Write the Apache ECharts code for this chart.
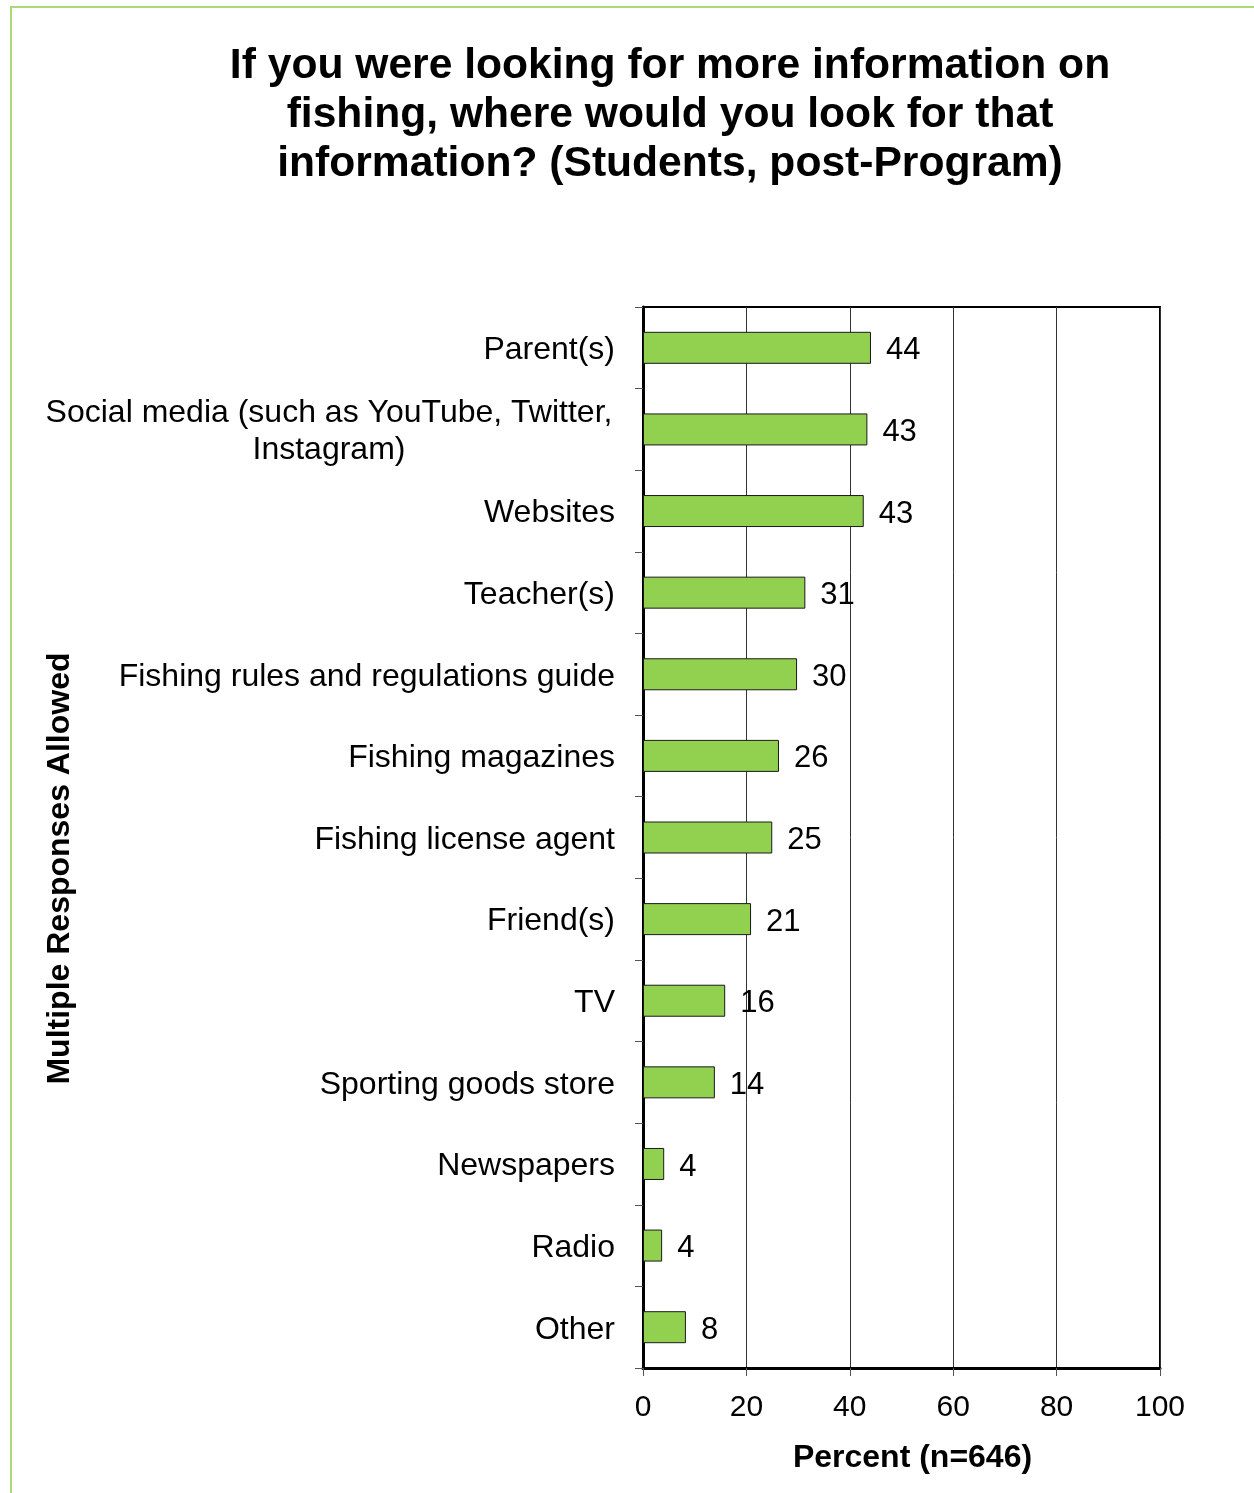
<!DOCTYPE html>
<html lang="en">
<head>
  <meta charset="UTF-8">
  <title>Fishing information sources</title>
  <script src="https://cdn.jsdelivr.net/npm/echarts@6/dist/echarts.min.js"></script>
  <style>
    html, body { margin: 0; padding: 0; background: #ffffff; }
    #frame {
      position: absolute; left: 10px; top: 6px; width: 1260px; height: 1500px;
      border-left: 2px solid #a9da74; border-top: 2px solid #a9da74;
    }
    #chart { position: absolute; left: 0; top: 0; width: 1254px; height: 1493px; }
  </style>
</head>
<body>
<div id="frame"></div>
<div id="chart"></div>
<script>
  // data (percent of students)
  var categories = [
    'Parent(s)',
    'Social media (such as YouTube, Twitter,\nInstagram)',
    'Websites',
    'Teacher(s)',
    'Fishing rules and regulations guide',
    'Fishing magazines',
    'Fishing license agent',
    'Friend(s)',
    'TV',
    'Sporting goods store',
    'Newspapers',
    'Radio',
    'Other'
  ];
  var percents = [44.1, 43.4, 42.7, 31.4, 29.8, 26.3, 25.0, 20.9, 15.9, 13.9, 4.1, 3.7, 8.3];
  var xTicks = [0, 20, 40, 60, 80, 100];

  var chart = echarts.init(document.getElementById('chart'), null, { renderer: 'canvas' });
  var font = '"Liberation Sans", Arial, sans-serif';

  var option = {
    animation: false,
    title: {
      text: 'If you were looking for more information on\nfishing, where would you look for that\ninformation? (Students, post-Program)',
      left: 665,
      top: 37,
      textAlign: 'center',
      textStyle: { fontFamily: font, fontSize: 42.6, fontWeight: 'bold', color: '#000', lineHeight: 49 }
    },
    grid: {
      left: 643, top: 307, width: 517, height: 1061,
      show: true, borderColor: '#000', borderWidth: 2, backgroundColor: 'transparent'
    },
    xAxis: {
      type: 'value',
      min: xTicks[0], max: xTicks[xTicks.length - 1], interval: 20,
      name: 'Percent (n=646)',
      nameLocation: 'middle',
      nameGap: 74,
      nameMoveOverlap: false,
      nameTextStyle: { fontFamily: font, fontSize: 32, fontWeight: 'bold', color: '#000', padding: [0, 0, 0, 22] },
      axisLine: { show: true, lineStyle: { color: '#000', width: 3 } },
      axisTick: { show: true, length: 8, lineStyle: { color: '#555', width: 1 } },
      axisLabel: { fontFamily: font, fontSize: 30, color: '#000', margin: 25 },
      splitLine: { show: true, lineStyle: { color: '#333', width: 1 } }
    },
    yAxis: {
      type: 'category',
      data: categories,
      inverse: true,
      name: 'Multiple Responses Allowed',
      nameLocation: 'middle',
      nameGap: 567,
      nameMoveOverlap: false,
      nameRotate: 90,
      nameTextStyle: { fontFamily: font, fontSize: 32, fontWeight: 'bold', color: '#000', padding: [0, 62, 0, 0] },
      axisLine: { show: true, lineStyle: { color: '#000', width: 3 } },
      axisTick: { show: true, length: 8, lineStyle: { color: '#555', width: 1 } },
      axisLabel: {
        fontFamily: font, fontSize: 32, color: '#000', margin: 28, lineHeight: 37,
        padding: [5, 0, 0, 0],
        formatter: function (v) {
          if (v.indexOf('\n') < 0) return v;
          return v.split('\n').map(function (s) { return '{c|' + s + '}'; }).join('\n');
        },
        rich: {
          c: { fontFamily: font, fontSize: 32, color: '#000', width: 572, align: 'center', lineHeight: 37 }
        }
      },
      splitLine: { show: false }
    },
    series: [{
      type: 'bar',
      data: percents,
      barWidth: 32,
      itemStyle: { color: '#92d050', borderColor: '#1a1a1a', borderWidth: 1 },
      label: {
        show: true,
        position: 'right',
        distance: 15,
        offset: [0, 3],
        fontFamily: font, fontSize: 31, color: '#000',
        formatter: function (p) { return Math.round(p.value); }
      }
    }]
  };

  chart.setOption(option);
  window.addEventListener('resize', chart.resize);
</script>
</body>
</html>
